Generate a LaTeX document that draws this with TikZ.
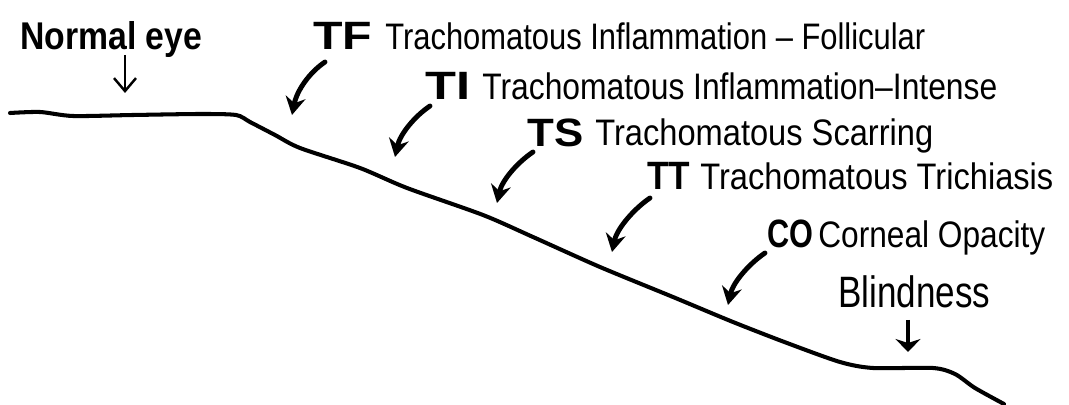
\documentclass[tikz,border=0pt]{standalone}
\usepackage{fontspec}
\setmainfont{Liberation Sans}
\usepackage{graphicx}
\usetikzlibrary{arrows.meta}
\newcommand\fitw[2]{\resizebox{#1}{\height}{#2}}
\begin{document}
\begin{tikzpicture}[x=0.02cm,y=-0.02cm,
  lbl/.style={anchor=base west, inner sep=0pt, font=\fontsize{21}{25}\selectfont},
  abbr/.style={anchor=base west, inner sep=0pt, font=\fontsize{22.5}{26}\selectfont\bfseries},
  big/.style={anchor=base west, inner sep=0pt, font=\fontsize{22}{26}\selectfont},
  curvearrow/.style={line width=2.8pt, line cap=round, -{Stealth[length=0.36cm,width=0.4cm,inset=0.12cm]}},
  thinarrow/.style={line width=1.4pt, -{Straight Barb[length=0.26cm,width=0.44cm]}},
  blindarrow/.style={line width=1.8pt, -{Stealth[length=0.26cm,width=0.5cm,inset=0.08cm]}},
  slope/.style={line width=2.3pt, line cap=round, line join=round}]
\useasboundingbox (0,0) rectangle (1069,405);

% the decline curve
\draw[slope] plot[smooth, tension=0.45] coordinates {
  (10,113) (40,112) (73,116) (133,115) (200,114) (236,115)
  (250,122) (275,135) (300,148) (360,168) (407,188) (483,215) (533,237)
  (600,267) (673,297) (733,322) (787,343) (840,362) (873,368) (933,368)
  (955,374) (975,388) (1004,404)};

% labels
\node[big, font=\fontsize{22}{26}\selectfont\bfseries] (normal) at (20,50) {\fitw{3.64cm}{Normal eye}};
\node[abbr] (tf) at (313,50) {\fitw{1.18cm}{TF}};
\node[lbl] (tft) at (385,50) {\fitw{10.8cm}{Trachomatous Inflammation – Follicular}};
\node[abbr] (ti) at (425,100) {\fitw{0.9cm}{TI}};
\node[lbl] (tit) at (482,100) {\fitw{10.3cm}{Trachomatous Inflammation–Intense}};
\node[abbr] (ts) at (527,147) {\fitw{1.12cm}{TS}};
\node[lbl] (tst) at (595,146) {\fitw{6.76cm}{Trachomatous Scarring}};
\node[abbr] (tt) at (647,190) {\fitw{0.86cm}{TT}};
\node[lbl] (ttt) at (700,190) {\fitw{7.06cm}{Trachomatous Trichiasis}};
\node[abbr] (co) at (767,248) {\fitw{0.92cm}{CO}};
\node[lbl] (cot) at (818,248) {\fitw{4.54cm}{Corneal Opacity}};
\node[big, font=\fontsize{25}{30}\selectfont] (blind) at (838,308) {\fitw{3.04cm}{Blindness}};

% arrow ends
\coordinate (ne1) at (125,55);  \coordinate (ne2) at (125,93);
\coordinate (tf1) at (325,62);  \coordinate (tf2) at (292,115);
\coordinate (ti1) at (430,106); \coordinate (ti2) at (395,157);
\coordinate (ts1) at (533,152); \coordinate (ts2) at (497,203);
\coordinate (tt1) at (650,198); \coordinate (tt2) at (612,252);
\coordinate (co1) at (765,253); \coordinate (co2) at (728,305);
\coordinate (bl1) at (908,320); \coordinate (bl2) at (908,352);

\draw[thinarrow] (ne1) -- (ne2);
\draw[blindarrow] (bl1) -- (bl2);
\draw[curvearrow] (tf1) .. controls (310,72) and (297,90) .. (tf2);
\draw[curvearrow] (ti1) .. controls (415,116) and (400,134) .. (ti2);
\draw[curvearrow] (ts1) .. controls (518,162) and (502,180) .. (ts2);
\draw[curvearrow] (tt1) .. controls (635,208) and (617,228) .. (tt2);
\draw[curvearrow] (co1) .. controls (750,263) and (733,282) .. (co2);
\end{tikzpicture}
\end{document}
